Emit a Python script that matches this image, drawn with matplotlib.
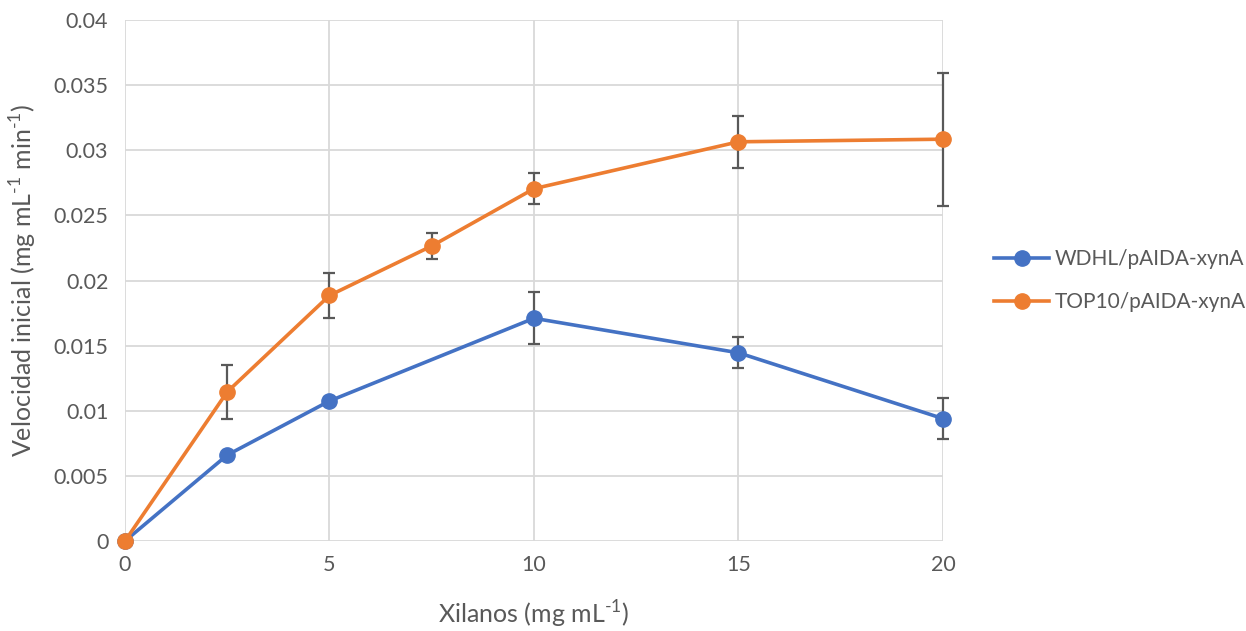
import matplotlib.pyplot as plt
from matplotlib.lines import Line2D

# data
xilanos_wdhl = [0, 2.5, 5, 10, 15, 20]
vel_wdhl = [0.0, 0.0066, 0.01075, 0.0171, 0.01445, 0.0094]
err_wdhl = [0.0, 0.0, 0.0003, 0.0020, 0.0012, 0.00155]

xilanos_top10 = [0, 2.5, 5, 7.5, 10, 15, 20]
vel_top10 = [0.0, 0.01145, 0.01885, 0.02265, 0.02705, 0.03065, 0.03085]
err_top10 = [0.0, 0.0021, 0.0017, 0.0010, 0.0012, 0.0020, 0.0051]

labels = ["WDHL/pAIDA-xynA", "TOP10/pAIDA-xynA"]
colors = ['#4472C4', '#ED7D31']
xticks = [0, 5, 10, 15, 20]
yticks = [0, 0.005, 0.01, 0.015, 0.02, 0.025, 0.03, 0.035, 0.04]
ytick_labels = ["0", "0.005", "0.01", "0.015", "0.02", "0.025", "0.03", "0.035", "0.04"]

plt.rcParams['font.family'] = ['Lato', 'DejaVu Sans']
plt.rcParams['mathtext.fontset'] = 'custom'
plt.rcParams['mathtext.rm'] = 'Lato'
txt = '#595959'

fig = plt.figure(figsize=(12.46, 6.31), dpi=100)
ax = fig.add_axes([0.1003, 0.1426, 0.6565, 0.8257])

ax.errorbar(xilanos_wdhl, vel_wdhl, yerr=err_wdhl, color=colors[0], lw=2.6,
            marker='o', ms=11, ecolor='#595959', elinewidth=1.6, capsize=4.5,
            capthick=1.6, zorder=3, clip_on=False)
ax.errorbar(xilanos_top10, vel_top10, yerr=err_top10, color=colors[1], lw=2.6,
            marker='o', ms=11, ecolor='#595959', elinewidth=1.6, capsize=4.5,
            capthick=1.6, zorder=4, clip_on=False)

ax.set_xlim(0, 20)
ax.set_ylim(0, 0.04)
ax.set_xticks(xticks)
ax.set_yticks(yticks)
ax.set_yticklabels(ytick_labels)
ax.grid(True, color='#D9D9D9', lw=1.3)
ax.set_axisbelow(True)
for s in ax.spines.values():
    s.set_visible(False)
ax.tick_params(length=0, labelsize=15.5, colors=txt)
ax.tick_params(axis='y', pad=12)
ax.tick_params(axis='x', pad=10)

ax.set_xlabel(r"Xilanos (mg mL$^{\text{-1}}$)", fontsize=18, color=txt, labelpad=17)
ax.set_ylabel(r"Velocidad inicial (mg mL$^{\text{-1}}$ min$^{\text{-1}}$)", fontsize=18,
              color=txt, labelpad=10)

handles = [Line2D([], [], color=c, lw=2.6, marker='o', ms=11) for c in colors]
leg = ax.legend(handles, labels, loc='center left', bbox_to_anchor=(1.04, 0.5),
                frameon=False, fontsize=15, labelcolor=txt, handlelength=2.6,
                handletextpad=0.3, labelspacing=1.1)

fig.savefig("out.png", dpi=100)
